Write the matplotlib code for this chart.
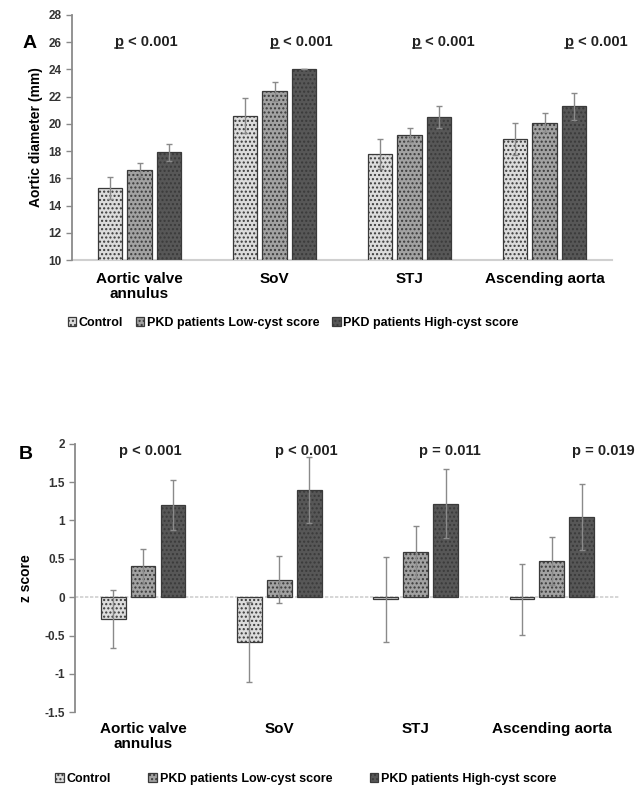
import matplotlib
matplotlib.use("Agg")
import matplotlib.pyplot as plt
import numpy as np
from matplotlib.lines import Line2D

plt.rcParams["font.family"] = ["Liberation Sans", "DejaVu Sans"]
plt.rcParams["hatch.linewidth"] = 1.0

categories = ["Aortic valve\nannulus", "SoV", "STJ", "Ascending aorta"]
groups = ["Control", "PKD patients Low-cyst score", "PKD patients High-cyst score"]

# panel A: aortic diameter (mm)
diam_control = [15.3, 20.6, 17.8, 18.9]
diam_low = [16.6, 22.4, 19.2, 20.1]
diam_high = [17.9, 24.0, 20.5, 21.3]
diam_err_control = [0.8, 1.3, 1.1, 1.2]
diam_err_low = [0.5, 0.7, 0.5, 0.7]
diam_err_high = [0.6, 0.0, 0.8, 1.0]
p_labels_a = ["p < 0.001", "p < 0.001", "p < 0.001", "p < 0.001"]

# panel B: z score
z_control = [-0.28, -0.58, -0.03, -0.03]
z_low = [0.40, 0.23, 0.59, 0.47]
z_high = [1.20, 1.40, 1.22, 1.05]
z_err_control = [0.38, 0.52, 0.56, 0.46]
z_err_low = [0.23, 0.31, 0.34, 0.31]
z_err_high = [0.32, 0.43, 0.45, 0.43]
p_labels_b = ["p < 0.001", "p < 0.001", "p = 0.011", "p = 0.019"]
p_x_shift = [0.05, 0.2, 0.25, 0.38]

colors = ["#dcdcdc", "#a2a2a2", "#575757"]
offsets = [-0.22, 0.0, 0.22]
width = 0.18


def draw_bars(ax, values, errors):
    x = np.arange(len(categories))
    handles = []
    for vals, errs, col, off, name in zip(values, errors, colors, offsets, groups):
        b = ax.bar(x + off, vals, width, color=col, edgecolor="#3a3a3a",
                   linewidth=0.9, hatch="....", label=name, zorder=2)
        ax.errorbar(x + off, vals, yerr=errs, fmt="none", ecolor="#8a8a8a",
                    elinewidth=1.0, capsize=2.5, capthick=1.0, zorder=3)
        handles.append(b)
    ax.set_xlim(-0.5, len(categories) - 0.5)
    ax.set_xticks([])
    for s in ["top", "right", "bottom"]:
        ax.spines[s].set_visible(False)
    ax.spines["left"].set_color("#8a8a8a")
    ax.spines["left"].set_linewidth(1.3)
    ax.tick_params(axis="y", colors="#8a8a8a", labelcolor="#333333",
                   labelsize=8.5, length=4, width=1)
    for lab in ax.get_yticklabels():
        lab.set_fontweight("bold")
    return handles


def underline_p(fig, text_obj):
    # underline the leading "p" of a p-value label
    r = fig.canvas.get_renderer()
    bb = text_obj.get_window_extent(r)
    probe = fig.text(0, 0, "p", fontsize=text_obj.get_fontsize(), fontweight="bold")
    pw = probe.get_window_extent(r).width
    probe.remove()
    inv = fig.transFigure.inverted()
    (x0, y0), (x1, _) = inv.transform([(bb.x0 + 0.5, bb.y0 + 1), (bb.x0 + pw - 0.5, bb.y0)])
    fig.add_artist(Line2D([x0, x1], [y0, y0], color="#222222", lw=1.1))


fig = plt.figure(figsize=(6.37, 7.88), dpi=100)

# ---- panel A
axA = fig.add_axes([0.113, 0.670, 0.848, 0.311])
axA.set_ylim(10, 28)
axA.set_yticks(np.arange(10, 29, 2))
handles = draw_bars(axA, [diam_control, diam_low, diam_high],
                    [diam_err_control, diam_err_low, diam_err_high])
axA.axhline(10, color="#d0d0d0", lw=1.5, zorder=1, clip_on=False)
axA.set_ylabel("Aortic diameter (mm)", fontsize=10, fontweight="bold", labelpad=4)
p_texts = []
for i, (lab, dx) in enumerate(zip(p_labels_a, p_x_shift)):
    p_texts.append(axA.text(i + dx, 26.0, lab, ha="center", va="center",
                            fontsize=10.5, fontweight="bold", color="#222222"))
for i, c in enumerate(categories):
    axA.text(i, 9.1, c, ha="center", va="top", fontsize=11, fontweight="bold",
             linespacing=1.1)
fig.text(0.035, 0.945, "A", fontsize=14, fontweight="bold", va="center")
fig.legend(handles, groups, loc="center", bbox_to_anchor=(0.46, 0.590), ncol=3,
           frameon=False, prop={"weight": "bold", "size": 9},
           handlelength=0.7, handleheight=0.7, handletextpad=0.2,
           columnspacing=1.0)

# ---- panel B
axB = fig.add_axes([0.118, 0.096, 0.855, 0.341])
axB.set_ylim(-1.5, 2)
axB.set_yticks([-1.5, -1, -0.5, 0, 0.5, 1, 1.5, 2])
axB.set_yticklabels(["-1.5", "-1", "-0.5", "0", "0.5", "1", "1.5", "2"])
handles = draw_bars(axB, [z_control, z_low, z_high],
                    [z_err_control, z_err_low, z_err_high])
axB.axhline(0, color="#d0d0d0", lw=1.2, ls=(0, (2, 1)), zorder=1)
axB.set_ylabel("z score", fontsize=10, fontweight="bold", labelpad=8)
for i, (lab, dx) in enumerate(zip(p_labels_b, p_x_shift)):
    axB.text(i + dx, 1.9, lab, ha="center", va="center", fontsize=10.5,
             fontweight="bold", color="#222222")
for i, c in enumerate(categories):
    axB.text(i, -1.62, c, ha="center", va="top", fontsize=11, fontweight="bold",
             linespacing=1.1)
fig.text(0.03, 0.423, "B", fontsize=14, fontweight="bold", va="center")
fig.legend(handles, groups, loc="center", bbox_to_anchor=(0.48, 0.012), ncol=3,
           frameon=False, prop={"weight": "bold", "size": 9},
           handlelength=0.7, handleheight=0.7, handletextpad=0.2,
           columnspacing=3.0)

for t in p_texts:
    underline_p(fig, t)

fig.savefig("out.png", dpi=100)
